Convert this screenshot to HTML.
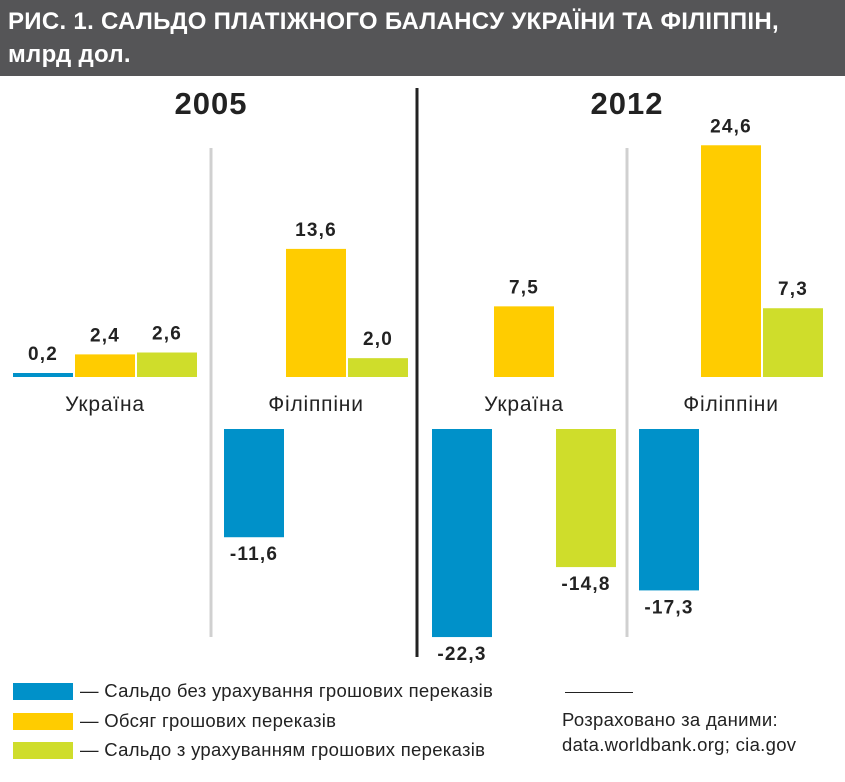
<!DOCTYPE html>
<html><head><meta charset="utf-8">
<style>
body{margin:0;width:845px;height:782px;background:#fff;font-family:"Liberation Sans",sans-serif;overflow:hidden;position:relative}
#hdr{position:absolute;left:0;top:0;width:845px;height:76px;background:#555557;color:#fff;font-weight:bold;font-size:24px;letter-spacing:0.3px;line-height:33px;padding:5px 0 0 8px;box-sizing:border-box}
svg{position:absolute;left:0;top:0}
.lg{position:absolute;font-size:18.5px;letter-spacing:0.3px;color:#222;white-space:nowrap}
</style></head><body>
<div id="hdr">РИС. 1. САЛЬДО ПЛАТІЖНОГО БАЛАНСУ УКРАЇНИ ТА ФІЛІППІН,<br>млрд дол.</div>
<svg id="chart" width="845" height="782"></svg>
<div class="lg" style="left:13px;top:683px;width:60px;height:17px;background:#0091c9"></div>
<div class="lg" style="left:80px;top:680px">— Сальдо без урахування грошових переказів</div>
<div class="lg" style="left:13px;top:713px;width:60px;height:17px;background:#ffcc00"></div>
<div class="lg" style="left:80px;top:710px">— Обсяг грошових переказів</div>
<div class="lg" style="left:13px;top:742px;width:60px;height:17px;background:#cfdd2b"></div>
<div class="lg" style="left:80px;top:739px">— Сальдо з урахуванням грошових переказів</div>
<div class="lg" style="left:565px;top:692px;width:68px;height:1px;background:#222"></div>
<div class="lg" style="left:562px;top:707px;line-height:25px">Розраховано за даними:<br>data.worldbank.org; cia.gov</div>
<script>
const groups=["Україна 2005","Філіппіни 2005","Україна 2012","Філіппіни 2012"];
const catLabels=["Україна","Філіппіни","Україна","Філіппіни"];
const withoutRemit=[0.2,-11.6,-22.3,-17.3];
const remittances=[2.4,13.6,7.5,24.6];
const withRemit=[2.6,2.0,-14.8,7.3];
const years=["2005","2012"];
const svg=document.getElementById('chart');
const NS="http://www.w3.org/2000/svg";
const groupX=[13,224,432,639];
const offs=[0,62,124];
const colors=["#0091c9","#ffcc00","#cfdd2b"];
const posBase=377,negBase=429,posK=9.42,negK=9.33;
function hOf(v){return v>=0?Math.max(v*posK,4):-v*negK;}
function yPos(v){return v>=0?posBase-hOf(v):negBase;}
function mk(tag,attrs){const e=document.createElementNS(NS,tag);for(const k in attrs)e.setAttribute(k,attrs[k]);svg.appendChild(e);return e;}
let l;
l=mk('line',{x1:211,y1:148,x2:211,y2:637,stroke:'#d0d0d0','stroke-width':3});


l=mk('line',{x1:627,y1:148,x2:627,y2:637,stroke:'#d0d0d0','stroke-width':3});


l=mk('line',{x1:417,y1:88,x2:417,y2:657,stroke:'#222','stroke-width':3});


years.forEach((y,i)=>{
  const t=mk('text',{x:[211,627][i],y:114,'text-anchor':'middle','font-size':31,'font-weight':'bold',fill:'#222','letter-spacing':1});
  t.textContent=y;
  
  
});
const series=[withoutRemit,remittances,withRemit];
groups.forEach((g,gi)=>{
  series.forEach((s,si)=>{
    const v=s[gi];const x=groupX[gi]+offs[si];
    const r=mk('rect',{x:x,y:yPos(v),width:60,height:hOf(v),fill:colors[si]});
    
    
    const ty=v>=0?yPos(v)-13:negBase+hOf(v)+23;
    const t=mk('text',{x:x+30,y:ty,'text-anchor':'middle','font-size':19,'font-weight':'bold',fill:'#222','letter-spacing':1.2});
    t.textContent=v.toFixed(1).replace('.',',');
    
    
  });
  const c=mk('text',{x:groupX[gi]+92,y:411,'text-anchor':'middle','font-size':21,fill:'#222','letter-spacing':0.8});
  c.textContent=catLabels[gi];
  
  
});
</script>
</body></html>
